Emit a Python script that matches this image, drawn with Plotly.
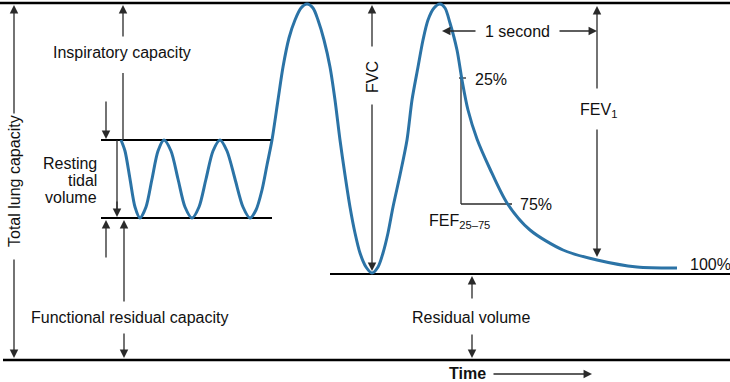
import plotly.graph_objects as go

# ---- data (time in arbitrary px-like units, volume with 0 at bottom line) ----
curve_time = [121,125,130,135,140,146,152,158,164,171,178,185,192,199,206,213,220,227,235,243,250,
              256,262,267,272,278,283,289,295,301,307,313,318,324,330,335,340,345,350,355,360,366,372,
              378,383,388,393,400,407,412,418,423,428,434,440,445,450,457,462,468,477,490,507,530,563,597,637,677]
curve_volume = [220,209,181,153,142,153,181,209,220,209,181,153,142,153,181,209,220,209,181,153,142,
                150,170,195,220,260,293,322,340,352,356,352,340,320,293,260,220,185,153,127,107,93,87,
                93,107,127,153,185,220,260,293,320,340,352,356,352,337,310,280,250,221,191,157,130,110,100,93,92]

level_names = ["TLC", "tidal_top", "FRC", "RV", "zero"]
level_values = [357, 220, 142, 86, 0]

# ---- styles ----
BLUE = "#2b73a6"
ARROW = "#2a2a2a"
TXT = "#111111"
FONT = "Liberation Sans, Arial, Helvetica, sans-serif"
L = dict(zip(level_names, level_values))

fig = go.Figure()
fig.add_trace(go.Scatter(x=curve_time, y=curve_volume, mode="lines",
                         line=dict(color=BLUE, width=3, shape="spline", smoothing=0.8),
                         hoverinfo="skip", showlegend=False))

shapes = []
def hline(x0, x1, y, w=2, c="black"):
    shapes.append(dict(type="line", x0=x0, x1=x1, y0=y, y1=y, xref="x", yref="y",
                       line=dict(color=c, width=w), layer="below"))
def vline(x, y0, y1, w=1.3, c=ARROW):
    shapes.append(dict(type="line", x0=x, x1=x, y0=y0, y1=y1, xref="x", yref="y",
                       line=dict(color=c, width=w), layer="below"))

hline(0, 730, L["TLC"], w=2.5)
hline(101, 272, L["tidal_top"])
hline(101, 272, L["FRC"])
hline(330, 730, L["RV"])
hline(3, 730, L["zero"], w=2.5)

# plain lines (no heads)
vline(123, 287, L["tidal_top"])
vline(117, L["tidal_top"], 150)
# FEF bracket
hline(459, 466, 282, w=1.3, c=ARROW)
vline(461, 282, 156)
hline(461, 512, 156, w=1.3, c=ARROW)

ann = []
def arrow(x, y, ax, ay):
    ann.append(dict(x=x, y=y, ax=ax, ay=ay, xref="x", yref="y", axref="x", ayref="y",
                    text="", showarrow=True, arrowhead=2, arrowsize=1.3, arrowwidth=1.3,
                    arrowcolor=ARROW, standoff=0, startstandoff=0))
def label(x, y, t, anchor="center", size=16, angle=0, bold=False):
    if bold:
        t = "<b>" + t + "</b>"
    ann.append(dict(x=x, y=y, xref="x", yref="y", text=t, showarrow=False,
                    xanchor=anchor, yanchor="middle", textangle=angle,
                    font=dict(family=FONT, size=size, color=TXT)))

# Total lung capacity
arrow(14, 355, 14, 245)
arrow(14, 2, 14, 102)
label(14, 179, "Total lung capacity", angle=-90)
# Inspiratory capacity
arrow(123, 355, 123, 322)
label(122, 308, "Inspiratory capacity")
# Resting tidal volume
arrow(106, 221, 106, 260)
arrow(117, 143, 117, 160)
arrow(106, 140, 106, 101)
label(99, 197, "Resting", anchor="right")
label(99, 180, "tidal", anchor="right")
label(99, 163, "volume", anchor="right")
# Functional residual capacity
arrow(124, 140, 124, 57)
arrow(124, 2, 124, 28)
label(129, 43, "Functional residual capacity")
# FVC
arrow(372, 355, 372, 312)
arrow(372, 89, 372, 257)
label(372, 283, "FVC", angle=-90)
# 1 second
arrow(442, 329, 477, 329)
arrow(597, 329, 558, 329)
label(517, 329, "1 second")
# FEV1
arrow(597, 354, 597, 270)
arrow(597, 103, 597, 232)
label(578, 250, "FEV<sub>1</sub>", anchor="left")
# percentages
label(473, 281, "25%", anchor="left")
label(518, 156, "75%", anchor="left")
label(688, 96, "100%", anchor="left")
label(427, 139, "FEF<sub>25–75</sub>", anchor="left")
# Residual volume
arrow(472, 84, 472, 60)
arrow(472, 2, 472, 27)
label(471, 43, "Residual volume")
# Time
label(467, -13.5, "Time", bold=True)
arrow(592, -14, 492, -14)

fig.update_layout(
    width=730, height=382, margin=dict(l=0, r=0, t=0, b=0),
    paper_bgcolor="white", plot_bgcolor="white",
    xaxis=dict(range=[0, 730], visible=False, fixedrange=True),
    yaxis=dict(range=[-22, 360], visible=False, fixedrange=True),
    shapes=shapes, annotations=ann, showlegend=False,
)
fig.write_html("out.html", config={"staticPlot": True},
               post_script="document.body.style.margin='0';document.body.style.overflow='hidden';")
